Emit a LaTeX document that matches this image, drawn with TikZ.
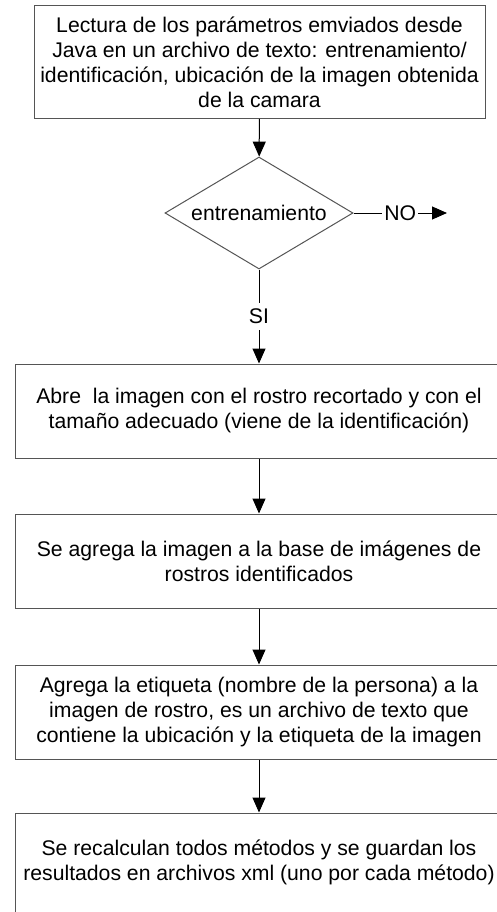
\documentclass[tikz,border=0pt]{standalone}
\usepackage{fontspec}
\setmainfont{Liberation Sans}
\usetikzlibrary{arrows.meta,shapes.geometric}
\definecolor{boxgray}{RGB}{85,85,85}
\tikzset{
  stepbox/.style={draw=boxgray, line width=1pt, rectangle, align=center, inner sep=0pt,
    font=\fontsize{21.2}{25}\selectfont},
  decbox/.style={draw=boxgray, line width=1pt, diamond, aspect=1.68, inner sep=1pt,
    minimum width=188pt, minimum height=112pt, font=\fontsize{21.2}{25}\selectfont},
  arr/.style={line width=1pt, -{Triangle[length=15pt,width=13pt]}},
  lbl/.style={fill=white, inner xsep=2pt, inner ysep=6pt, font=\fontsize{21.2}{25}\selectfont}
}
\begin{document}
\begin{tikzpicture}[x=1pt,y=-1pt]
\clip (0,0) rectangle (497,912);
\fill[white] (0,0) rectangle (497,912);
\node[stepbox, minimum width=451pt, minimum height=113pt] (top) at (259.5,62)
  {Lectura de los parámetros emviados desde\\Java en un archivo de texto: entrenamiento/\\identificación, ubicación de la imagen obtenida\\de la camara};
\node[decbox] (dec) at (259,213) {entrenamiento};
\coordinate (noend) at (447,213);
\node[stepbox, minimum width=488pt, minimum height=94pt] (b2) at (259,411)
  {Abre\ \ la imagen con el rostro recortado y con el\\tamaño adecuado (viene de la identificación)};
\node[stepbox, minimum width=488pt, minimum height=94pt] (b3) at (259,561)
  {Se agrega la imagen a la base de imágenes de\\rostros identificados};
\node[stepbox, minimum width=488pt, minimum height=94pt] (b4) at (259,712)
  {Agrega la etiqueta (nombre de la persona) a la\\imagen de rostro, es un archivo de texto que\\contiene la ubicación y la etiqueta de la imagen};
\node[stepbox, minimum width=488pt, minimum height=99pt] (b5) at (259,862.5)
  {Se recalculan todos métodos y se guardan los\\resultados en archivos xml (uno por cada método)};
\draw[arr] (top) -- (dec);
\draw[arr] (dec.south) -- node[lbl]{SI} (b2);
\draw[arr] (dec.east) -- node[lbl]{NO} (noend);
\draw[arr] (b2) -- (b3);
\draw[arr] (b3) -- (b4);
\draw[arr] (b4) -- (b5);
\end{tikzpicture}
\end{document}
